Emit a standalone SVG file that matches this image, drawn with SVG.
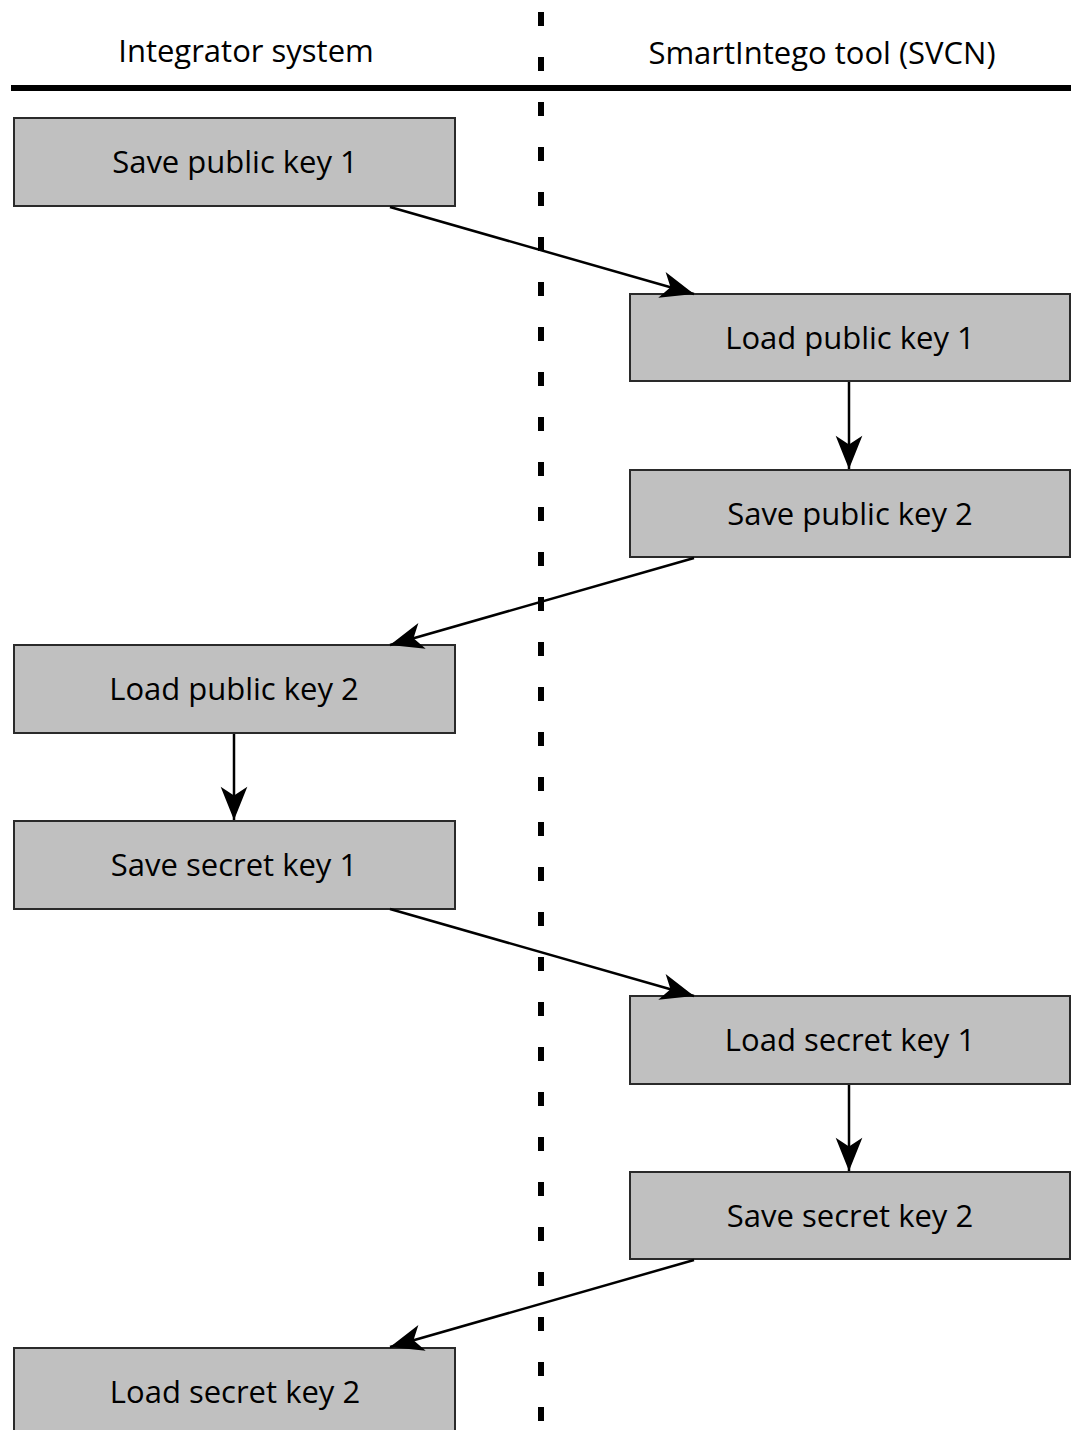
<svg xmlns="http://www.w3.org/2000/svg" width="1077" height="1430" viewBox="0 0 1077 1430">
<style>
.box{fill:#c0c0c0;stroke:#2a2a2a;stroke-width:2}
.t{font-family:"Open Sans","DejaVu Sans",sans-serif;font-size:31px;fill:#000;text-anchor:middle}
.c{stroke:#000;stroke-width:2.5;fill:none;marker-end:url(#ah)}
</style>
<defs>
<marker id="ah" markerUnits="userSpaceOnUse" markerWidth="40" markerHeight="40" viewBox="-32 -16 36 32" refX="0" refY="0" orient="auto">
<path d="M0,0 L-30,-12 L-22,0 L-30,12 Z" fill="#000"/>
</marker>
</defs>
<rect width="1077" height="1430" fill="#fff"/>
<line x1="541" y1="12" x2="541" y2="1430" stroke="#000" stroke-width="6" stroke-dasharray="14 31"/>
<line x1="11" y1="88" x2="1071" y2="88" stroke="#000" stroke-width="6"/>
<text class="t" x="246" y="62">Integrator system</text>
<text class="t" x="822" y="64">SmartIntego tool (SVCN)</text>
<g id="n1"><rect class="box" x="14" y="118" width="441" height="88"/><text class="t" x="235" y="173">Save public key 1</text></g>
<g id="n2"><rect class="box" x="630" y="294" width="440" height="87"/><text class="t" x="850" y="349">Load public key 1</text></g>
<g id="n3"><rect class="box" x="630" y="470" width="440" height="87"/><text class="t" x="850" y="525">Save public key 2</text></g>
<g id="n4"><rect class="box" x="14" y="645" width="441" height="88"/><text class="t" x="234" y="700">Load public key 2</text></g>
<g id="n5"><rect class="box" x="14" y="821" width="441" height="88"/><text class="t" x="234" y="876">Save secret key 1</text></g>
<g id="n6"><rect class="box" x="630" y="996" width="440" height="88"/><text class="t" x="850" y="1051">Load secret key 1</text></g>
<g id="n7"><rect class="box" x="630" y="1172" width="440" height="87"/><text class="t" x="850" y="1227">Save secret key 2</text></g>
<g id="n8"><rect class="box" x="14" y="1348" width="441" height="90"/><text class="t" x="235" y="1403">Load secret key 2</text></g>
<g id="connectors">
<line class="c" x1="390" y1="207" x2="694" y2="294"/>
<line class="c" x1="849" y1="382" x2="849" y2="469"/>
<line class="c" x1="694" y1="558" x2="390" y2="645"/>
<line class="c" x1="234" y1="734" x2="234" y2="820"/>
<line class="c" x1="390" y1="909" x2="694" y2="996"/>
<line class="c" x1="849" y1="1085" x2="849" y2="1171"/>
<line class="c" x1="694" y1="1260" x2="390" y2="1347"/>
</g>
</svg>
